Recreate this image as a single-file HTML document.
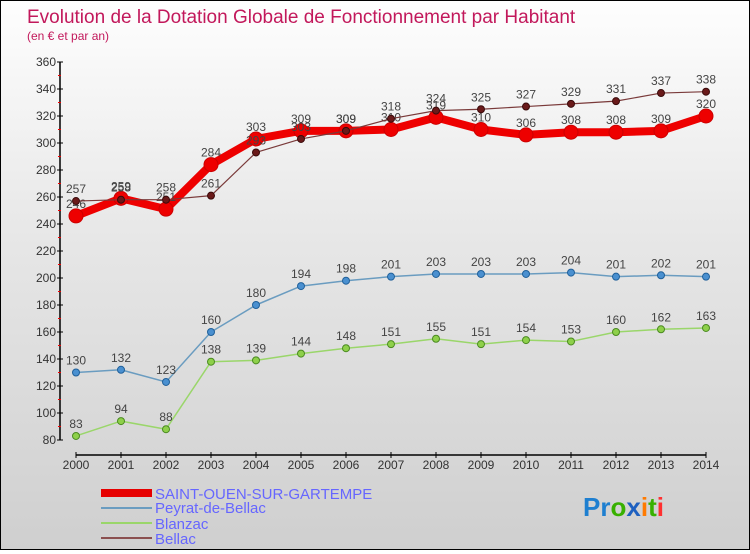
<!DOCTYPE html>
<html><head><meta charset="utf-8"><style>
body{margin:0;width:750px;height:550px;overflow:hidden;font-family:"Liberation Sans",sans-serif}
#wrap{position:relative;width:748px;height:548px;border:1px solid #000;background:linear-gradient(#fefefe,#e6e6e6 45%,#cfcfcf)}
svg text{font-family:"Liberation Sans",sans-serif}
</style></head><body>
<div id="wrap">
<svg id="chart" width="748" height="548">
<text x="26" y="22" font-size="19" fill="#c2185b">Evolution de la Dotation Globale de Fonctionnement par Habitant</text>
<text x="26" y="39" font-size="12" fill="#c2185b">(en € et par an)</text>
<g id="axes"></g><g id="series"></g>
<g>
<rect x="100" y="488" width="51" height="8" fill="#e60000"/>
<text x="154" y="498" font-size="15" fill="#6666ff">SAINT-OUEN-SUR-GARTEMPE</text>
<rect x="100" y="506" width="51" height="2" fill="#6a9cc0"/>
<text x="154" y="512" font-size="15" fill="#6666ff">Peyrat-de-Bellac</text>
<rect x="100" y="521" width="51" height="2" fill="#9ad66a"/>
<text x="154" y="528" font-size="15" fill="#6666ff">Blanzac</text>
<rect x="100" y="536" width="51" height="2" fill="#8b5050"/>
<text x="154" y="543" font-size="15" fill="#6666ff">Bellac</text>
</g>
<g font-size="26" font-weight="bold">
<text x="582" y="515"><tspan fill="#1e7fd0">Pr</tspan><tspan fill="#38b000">o</tspan><tspan fill="#1e60c0">x</tspan><tspan fill="#ff7a00">i</tspan><tspan fill="#38b000">t</tspan><tspan fill="#ff3030">i</tspan></text>
</g>
</svg></div>
<script>
const years=[2000,2001,2002,2003,2004,2005,2006,2007,2008,2009,2010,2011,2012,2013,2014];
const yTicks=[80,100,120,140,160,180,200,220,240,260,280,300,320,340,360];
const saintOuen=[246,259,251,284,303,309,309,310,319,310,306,308,308,309,320];
const peyrat=[130,132,123,160,180,194,198,201,203,203,203,204,201,202,201];
const blanzac=[83,94,88,138,139,144,148,151,155,151,154,153,160,162,163];
const bellac=[257,258,258,261,293,303,309,318,324,325,327,329,331,337,338];
const NS='http://www.w3.org/2000/svg';
const xS=i=>75+i*45;
const yS=v=>439-(v-80)*(378/280);
function mk(t,a,p){const e=document.createElementNS(NS,t);for(const k in a)e.setAttribute(k,a[k]);p.appendChild(e);return e;}
const ax=document.getElementById('axes');
const yl=mk('line',{x1:59,y1:yS(360),x2:59,y2:yS(80),stroke:'#000','stroke-width':1.5},ax);


const xl=mk('line',{x1:75,y1:454,x2:xS(14),y2:454,stroke:'#000','stroke-width':1.5},ax);


yTicks.forEach((v,i)=>{
  mk('line',{x1:56,x2:62,y1:yS(v),y2:yS(v),stroke:'#000'},ax);
  if(i<yTicks.length-1)mk('line',{x1:57,x2:60,y1:yS(v+10),y2:yS(v+10),stroke:'#e00'},ax);
  const t=mk('text',{x:55,y:yS(v)+4,'font-size':12,fill:'#333','text-anchor':'end'},ax);t.textContent=v;
  
  
});
years.forEach((y,i)=>{
  mk('line',{x1:xS(i),x2:xS(i),y1:451,y2:457,stroke:'#000'},ax);
  const t=mk('text',{x:xS(i),y:468,'font-size':12,fill:'#333','text-anchor':'middle'},ax);t.textContent=y;
  
  
});
const sg=document.getElementById('series');
function series(data,name,color,w,r,dot,dotStroke){
  const g=mk('g',{},sg);
  
  
  const pl=mk('polyline',{points:data.map((v,i)=>xS(i)+','+yS(v)).join(' '),fill:'none',stroke:color,'stroke-width':w,'stroke-linejoin':'round'},g);
  
  
  data.forEach((v,i)=>{
    const c=mk('circle',{cx:xS(i),cy:yS(v),r:r,fill:dot,stroke:dotStroke,'stroke-width':1},g);
    
    
    const t=mk('text',{x:xS(i),y:yS(v)-8,'font-size':12,fill:'#444','text-anchor':'middle'},g);t.textContent=v;
    
    
  });
}
series(blanzac,'blanzac','#9ad66a',1.5,3.5,'#8ed04a','#4a8a20');
series(peyrat,'peyrat','#6a9cc0',1.5,3.5,'#4a90d0','#20609a');
series(saintOuen,'saint-ouen','#ee0000',8,7,'#ee0000','#c00');
series(bellac,'bellac','#7a3a3a',1.2,3.5,'#6a1a1a','#3a0a0a');
</script>
</body></html>
